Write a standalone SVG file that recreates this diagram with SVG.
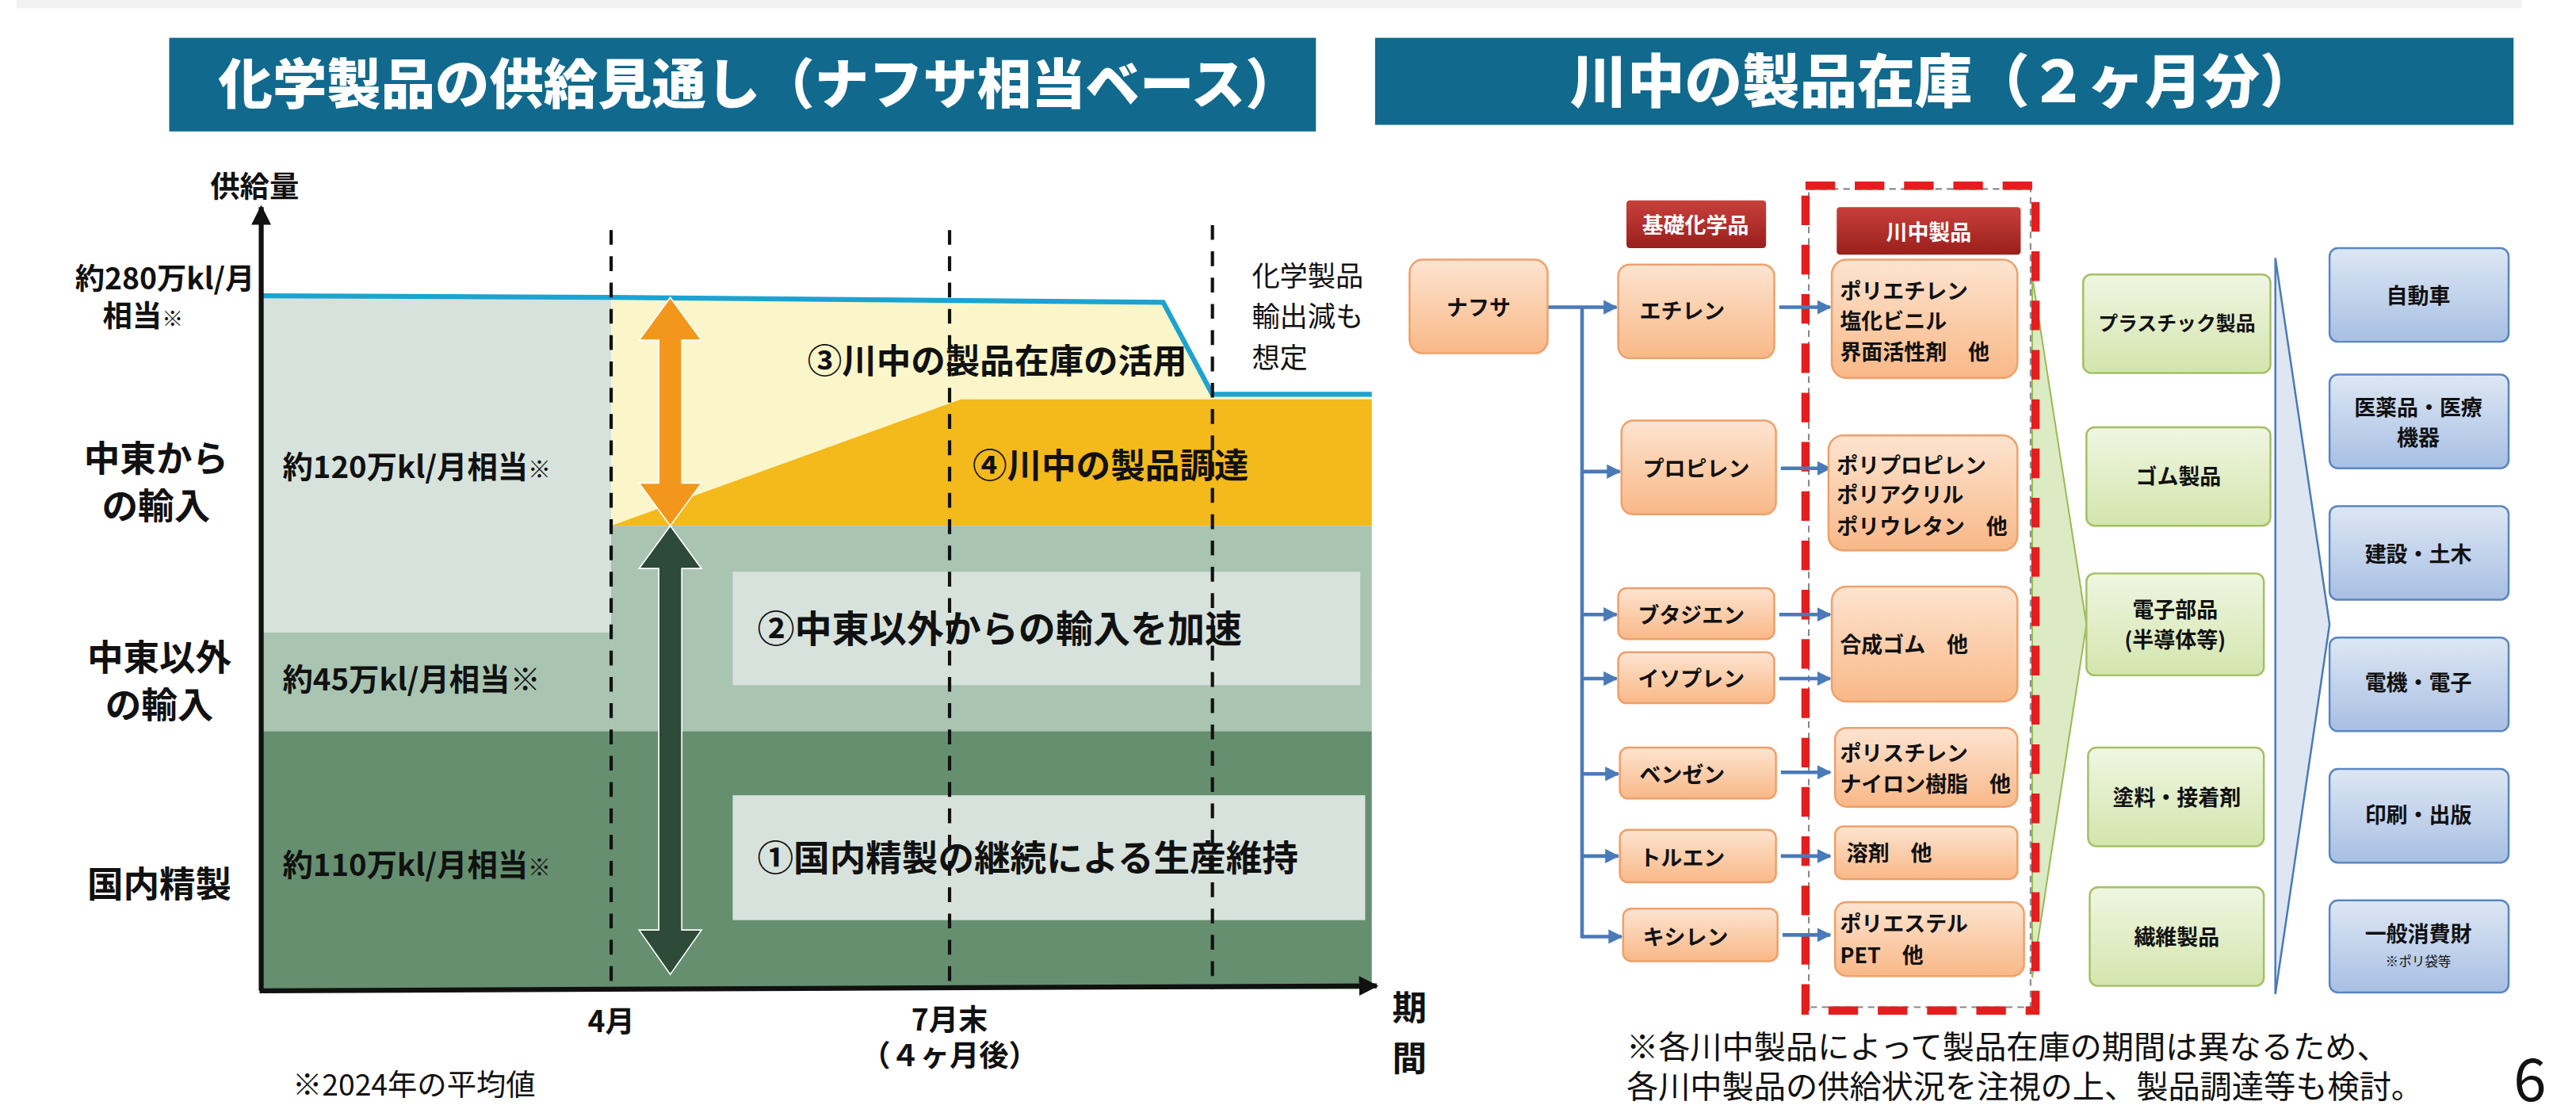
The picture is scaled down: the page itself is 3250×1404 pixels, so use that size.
<svg xmlns="http://www.w3.org/2000/svg" width="3250" height="1404" viewBox="0 0 3250 1404">
<defs>
<style>
text{font-family:"Noto Sans CJK JP","Noto Sans",sans-serif;font-weight:bold;fill:#111}
.n{font-weight:normal}
.w{fill:#fff}
.h{font-weight:900}
.or{fill:url(#go);stroke:#eea06a;stroke-width:1.2}
.gr{fill:url(#gg);stroke:#a4c064;stroke-width:1.2}
.bl{fill:url(#gb);stroke:#5a86c0;stroke-width:1.2}
.hd{fill:url(#gr)}
.ln{stroke:#4a7ab8;stroke-width:2.2;fill:none}
.dash{stroke:#111;stroke-width:2;stroke-dasharray:9 7}
</style>
<linearGradient id="go" x1="0" y1="0" x2="0" y2="1"><stop offset="0" stop-color="#fde4d0"/><stop offset="1" stop-color="#f9b887"/></linearGradient>
<linearGradient id="gg" x1="0" y1="0" x2="0" y2="1"><stop offset="0" stop-color="#f0f6e2"/><stop offset="1" stop-color="#d3e5ad"/></linearGradient>
<linearGradient id="gb" x1="0" y1="0" x2="0" y2="1"><stop offset="0" stop-color="#dde7f4"/><stop offset="1" stop-color="#a8bfe3"/></linearGradient>
<linearGradient id="gr" x1="0" y1="0" x2="0" y2="1"><stop offset="0" stop-color="#c8403c"/><stop offset="1" stop-color="#9a1f1c"/></linearGradient>
<marker id="ab" viewBox="0 0 10 10" refX="9" refY="5" markerWidth="4" markerHeight="4" orient="auto"><path d="M0,0L10,5L0,10z" fill="#4a7ab8"/></marker>
<marker id="ak" viewBox="0 0 10 10" refX="9" refY="5" markerWidth="4" markerHeight="4" orient="auto"><path d="M0,0L10,5L0,10z" fill="#111"/></marker>
</defs>
<rect width="3250" height="1404" fill="#fff"/>
<g transform="scale(2.0727)">
<rect x="10" y="0" width="1525" height="5" fill="#f2f2f2"/>
<g id="title-left"><rect x="103" y="23" width="698" height="57" fill="#116a8e"/><text x="462" y="63" class="w h" font-size="33" text-anchor="middle">化学製品の供給見通し（ナフサ相当ベース）</text></g>
<g id="title-right"><rect x="837" y="23" width="693" height="53" fill="#116a8e"/><text x="1183" y="62" class="w h" font-size="35" text-anchor="middle">川中の製品在庫（２ヶ月分）</text></g>

<g id="chart">
<rect x="159" y="181" width="213" height="204" fill="#d7e2dc"/>
<rect x="159" y="385" width="213" height="60" fill="#a9c4b1"/>
<polygon points="372,181 708,184 738,240 835,240 835,320 372,320" fill="#faf6c9"/>
<polygon points="372,320 585,243 835,243 835,320" fill="#f4b91a"/>
<rect x="372" y="320" width="463" height="125" fill="#a9c4b1"/>
<rect x="159" y="445" width="676" height="157" fill="#668f70"/>
<rect x="446" y="348" width="382" height="69" fill="#d7e2dc"/>
<rect x="446" y="484" width="385" height="76" fill="#d7e2dc"/>
<polyline points="159,180 372,181 708,184 738,240 835,240" fill="none" stroke="#1ba3d2" stroke-width="3"/>
<line x1="372" y1="140" x2="372" y2="602" class="dash"/>
<line x1="578" y1="140" x2="578" y2="602" class="dash"/>
<line x1="738" y1="137" x2="738" y2="602" class="dash"/>
<polygon points="408,181 427,207 415,207 415,294 427,294 408,320 389,294 401,294 401,207 389,207" fill="#f3961c" stroke="#fff" stroke-width="0.8"/>
<polygon points="408,320 427,346 415,346 415,566 427,566 408,593 389,566 401,566 401,346 389,346" fill="#2e4a38" stroke="#fff" stroke-width="0.8"/>
<line x1="159" y1="603" x2="159" y2="126" stroke="#111" stroke-width="3" marker-end="url(#ak)"/>
<line x1="158" y1="603" x2="838" y2="600" stroke="#111" stroke-width="3" marker-end="url(#ak)"/>
<text x="155" y="120" font-size="18" text-anchor="middle">供給量</text>
<text x="155" y="176" font-size="18" text-anchor="end">約280万kl/月</text>
<text x="87" y="199" font-size="18" text-anchor="middle">相当<tspan font-size="13">※</tspan></text>
<text x="95" y="287" font-size="22" text-anchor="middle">中東から</text>
<text x="95" y="316" font-size="22" text-anchor="middle">の輸入</text>
<text x="97" y="408" font-size="22" text-anchor="middle">中東以外</text>
<text x="97" y="437" font-size="22" text-anchor="middle">の輸入</text>
<text x="97" y="546" font-size="22" text-anchor="middle">国内精製</text>
<text x="172" y="291" font-size="18.5">約120万kl/月相当<tspan font-size="14">※</tspan></text>
<text x="172" y="420" font-size="18.5">約45万kl/月相当※</text>
<text x="172" y="533" font-size="18.5">約110万kl/月相当<tspan font-size="14">※</tspan></text>
<text x="607" y="227" font-size="21" text-anchor="middle">③川中の製品在庫の活用</text>
<text x="676" y="291" font-size="21" text-anchor="middle">④川中の製品調達</text>
<text x="461" y="391" font-size="22.7">②中東以外からの輸入を加速</text>
<text x="461" y="530" font-size="22">①国内精製の継続による生産維持</text>
<text x="762" y="174" font-size="17" class="n">化学製品</text>
<text x="762" y="199" font-size="17" class="n">輸出減も</text>
<text x="762" y="224" font-size="17" class="n">想定</text>
<text x="372" y="628" font-size="18" text-anchor="middle">4月</text>
<text x="578" y="627" font-size="18" text-anchor="middle">7月末</text>
<text x="578" y="649" font-size="18" text-anchor="middle">（４ヶ月後）</text>
<text x="858" y="621" font-size="21" text-anchor="middle">期</text>
<text x="858" y="652" font-size="21" text-anchor="middle">間</text>
<text x="178" y="667" font-size="18" class="n">※2024年の平均値</text>
</g>

<g id="fans">
<polygon points="1237,168 1270,380 1237,595" fill="#dcebc4" stroke="#9bbb59" stroke-width="1"/>
<polygon points="1385,157 1418,380 1385,605" fill="#dde6f1" stroke="#4a7ab8" stroke-width="1.2"/>
</g>
<g id="frame">
<rect x="1101" y="115" width="135" height="498" fill="none" stroke="#888" stroke-width="1" stroke-dasharray="4 3"/>
<rect x="1099" y="113" width="140" height="502" fill="none" stroke="#e41e1e" stroke-width="5" stroke-dasharray="18 12"/>
</g>
<g id="hdr1"><rect x="990" y="122" width="85" height="29" rx="2" class="hd"/><text x="1032" y="142" font-size="13" class="w" text-anchor="middle">基礎化学品</text></g>
<g id="hdr2"><rect x="1118" y="126" width="112" height="29" rx="2" class="hd"/><text x="1174" y="146" font-size="13" class="w" text-anchor="middle">川中製品</text></g>

<g id="connectors">
<line x1="942" y1="187" x2="984" y2="187" class="ln" marker-end="url(#ab)"/>
<line x1="963" y1="187" x2="963" y2="571" class="ln"/>
<line x1="963" y1="287" x2="986" y2="287" class="ln" marker-end="url(#ab)"/>
<line x1="963" y1="374" x2="984" y2="374" class="ln" marker-end="url(#ab)"/>
<line x1="963" y1="413" x2="984" y2="413" class="ln" marker-end="url(#ab)"/>
<line x1="963" y1="471" x2="985" y2="471" class="ln" marker-end="url(#ab)"/>
<line x1="963" y1="521" x2="985" y2="521" class="ln" marker-end="url(#ab)"/>
<line x1="963" y1="570" x2="987" y2="570" class="ln" marker-end="url(#ab)"/>
<line x1="1083" y1="187" x2="1114" y2="187" class="ln" marker-end="url(#ab)"/>
<line x1="1084" y1="285" x2="1114" y2="285" class="ln" marker-end="url(#ab)"/>
<line x1="1083" y1="374" x2="1114" y2="374" class="ln" marker-end="url(#ab)"/>
<line x1="1083" y1="413" x2="1114" y2="413" class="ln" marker-end="url(#ab)"/>
<line x1="1084" y1="470" x2="1114" y2="470" class="ln" marker-end="url(#ab)"/>
<line x1="1084" y1="521" x2="1114" y2="521" class="ln" marker-end="url(#ab)"/>
<line x1="1085" y1="569" x2="1114" y2="569" class="ln" marker-end="url(#ab)"/>
</g>

<g id="naphtha"><rect x="858" y="158" width="84" height="57" rx="8" class="or"/><text x="900" y="192" font-size="13" text-anchor="middle">ナフサ</text></g>
<g id="ethylene"><rect x="985" y="161" width="95" height="57" rx="7" class="or"/><text x="998" y="194" font-size="13">エチレン</text></g>
<g id="propylene"><rect x="987" y="256" width="94" height="57" rx="7" class="or"/><text x="1000" y="290" font-size="13">プロピレン</text></g>
<g id="butadiene"><rect x="985" y="358" width="95" height="31" rx="5" class="or"/><text x="997" y="379" font-size="13">ブタジエン</text></g>
<g id="isoprene"><rect x="985" y="397" width="95" height="31" rx="5" class="or"/><text x="997" y="418" font-size="13">イソプレン</text></g>
<g id="benzene"><rect x="986" y="455" width="95" height="31" rx="5" class="or"/><text x="998" y="476" font-size="13">ベンゼン</text></g>
<g id="toluene"><rect x="986" y="505" width="95" height="32" rx="5" class="or"/><text x="998" y="527" font-size="13">トルエン</text></g>
<g id="xylene"><rect x="988" y="553" width="94" height="32" rx="5" class="or"/><text x="1000" y="575" font-size="13">キシレン</text></g>

<g id="mid1"><rect x="1115" y="158" width="113" height="72" rx="9" class="or"/><text x="1120" y="182" font-size="13">ポリエチレン</text><text x="1120" y="200" font-size="13">塩化ビニル</text><text x="1120" y="219" font-size="13">界面活性剤　他</text></g>
<g id="mid2"><rect x="1113" y="265" width="115" height="70" rx="9" class="or"/><text x="1118" y="288" font-size="13">ポリプロピレン</text><text x="1118" y="306" font-size="13">ポリアクリル</text><text x="1118" y="325" font-size="13">ポリウレタン　他</text></g>
<g id="mid3"><rect x="1115" y="357" width="113" height="70" rx="9" class="or"/><text x="1120" y="397" font-size="13">合成ゴム　他</text></g>
<g id="mid4"><rect x="1117" y="443" width="111" height="48" rx="7" class="or"/><text x="1120" y="463" font-size="13">ポリスチレン</text><text x="1120" y="482" font-size="13">ナイロン樹脂　他</text></g>
<g id="mid5"><rect x="1117" y="503" width="111" height="32" rx="5" class="or"/><text x="1124" y="524" font-size="13">溶剤　他</text></g>
<g id="mid6"><rect x="1117" y="549" width="115" height="45" rx="7" class="or"/><text x="1120" y="567" font-size="13">ポリエステル</text><text x="1120" y="586" font-size="13">PET　他</text></g>

<g id="g1"><rect x="1268" y="167" width="114" height="60" rx="5" class="gr"/><text x="1325" y="201" font-size="12" text-anchor="middle">プラスチック製品</text></g>
<g id="g2"><rect x="1270" y="260" width="112" height="60" rx="5" class="gr"/><text x="1326" y="295" font-size="13" text-anchor="middle">ゴム製品</text></g>
<g id="g3"><rect x="1270" y="349" width="108" height="62" rx="5" class="gr"/><text x="1324" y="376" font-size="13" text-anchor="middle">電子部品</text><text x="1324" y="394" font-size="13" text-anchor="middle">(半導体等)</text></g>
<g id="g4"><rect x="1271" y="455" width="107" height="60" rx="5" class="gr"/><text x="1325" y="490" font-size="13" text-anchor="middle">塗料・接着剤</text></g>
<g id="g5"><rect x="1272" y="540" width="106" height="60" rx="5" class="gr"/><text x="1325" y="575" font-size="13" text-anchor="middle">繊維製品</text></g>

<g id="b1"><rect x="1418" y="151" width="109" height="57" rx="5" class="bl"/><text x="1472" y="185" font-size="13" text-anchor="middle">自動車</text></g>
<g id="b2"><rect x="1418" y="228" width="109" height="57" rx="5" class="bl"/><text x="1472" y="253" font-size="13" text-anchor="middle">医薬品・医療</text><text x="1472" y="271" font-size="13" text-anchor="middle">機器</text></g>
<g id="b3"><rect x="1418" y="308" width="109" height="57" rx="5" class="bl"/><text x="1472" y="342" font-size="13" text-anchor="middle">建設・土木</text></g>
<g id="b4"><rect x="1418" y="388" width="109" height="57" rx="5" class="bl"/><text x="1472" y="420" font-size="13" text-anchor="middle">電機・電子</text></g>
<g id="b5"><rect x="1418" y="468" width="109" height="57" rx="5" class="bl"/><text x="1472" y="501" font-size="13" text-anchor="middle">印刷・出版</text></g>
<g id="b6"><rect x="1418" y="548" width="109" height="56" rx="5" class="bl"/><text x="1472" y="573" font-size="13" text-anchor="middle">一般消費財</text><text x="1472" y="588" font-size="8" class="n" text-anchor="middle">※ポリ袋等</text></g>

<text x="990" y="644" font-size="19.4" class="n">※各川中製品によって製品在庫の期間は異なるため、</text>
<text x="990" y="668" font-size="19.4" class="n">各川中製品の供給状況を注視の上、製品調達等も検討。</text>
<text x="1540" y="670" font-size="36" class="n" text-anchor="middle">6</text>
</g>
</svg>
